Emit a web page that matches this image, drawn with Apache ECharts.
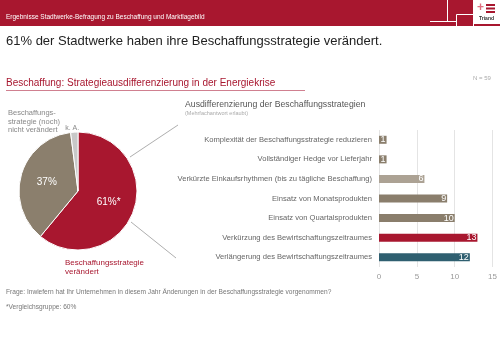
<!DOCTYPE html>
<html>
<head>
<meta charset="utf-8">
<script src="https://cdn.jsdelivr.net/npm/echarts@6/dist/echarts.min.js"></script>
<style>
  * { margin: 0; padding: 0; }
  html, body { background: #fff; }
  #chart { width: 500px; height: 353px; }
</style>
</head>
<body>
<div id="chart"></div>
<script>
  // Kreisdiagramm: Beschaffungsstrategie
  const pieNames = ['Beschaffungsstrategie verändert', 'Beschaffungsstrategie (noch) nicht verändert', 'k. A.'];
  const pieValues = [61, 37, 2];
  const pieLabels = ['61%*', '37%', 'k. A.'];

  // Balkendiagramm: Ausdifferenzierung
  const barCategories = [
    'Komplexität der Beschaffungsstrategie reduzieren',
    'Vollständiger Hedge vor Lieferjahr',
    'Verkürzte Einkaufsrhythmen (bis zu tägliche Beschaffung)',
    'Einsatz von Monatsprodukten',
    'Einsatz von Quartalsprodukten',
    'Verkürzung des Bewirtschaftungszeitraumes',
    'Verlängerung des Bewirtschaftungszeitraumes'
  ];
  const barValues = [1, 1, 6, 9, 10, 13, 12];
  const xTicks = [0, 5, 10, 15];

  const red = '#a8172f';
  const pieColors = [red, '#8b7f6d', '#c8c8c8'];
  const barColors = ['#8a7e6c', '#8a7e6c', '#aca294', '#8a7e6c', '#8a7e6c', red, '#2f5f70'];
  const font = '"Liberation Sans", Arial, sans-serif';

  const chart = echarts.init(document.getElementById('chart'));

  const option = {
    backgroundColor: '#fff',
    textStyle: { fontFamily: font },
    animation: false,
    grid: { left: 379, right: 7, top: 130, bottom: 86 },
    xAxis: {
      type: 'value',
      min: xTicks[0],
      max: xTicks[xTicks.length - 1],
      interval: 5,
      axisLine: { show: false },
      axisTick: { show: false },
      splitLine: { lineStyle: { color: '#e4e4e4', width: 1 } },
      axisLabel: { color: '#999', fontSize: 8, margin: 6 }
    },
    yAxis: {
      type: 'category',
      inverse: true,
      data: barCategories,
      axisLine: { show: false },
      axisTick: { show: false },
      axisLabel: { color: '#666', fontSize: 7.6, margin: 7 }
    },
    series: [
      {
        type: 'bar',
        barWidth: 8,
        data: barValues.map((v, i) => ({ value: v, itemStyle: { color: barColors[i] } })),
        label: {
          show: true,
          position: 'insideRight',
          color: '#fff',
          fontSize: 9,
          distance: 1
        }
      },
      {
        type: 'pie',
        center: [78, 191],
        radius: 59,
        startAngle: 90,
        clockwise: true,
        itemStyle: { borderColor: '#fff', borderWidth: 1 },
        data: pieValues.map((v, i) => ({
          name: pieNames[i],
          value: v,
          itemStyle: { color: pieColors[i] },
          label: i < 2
            ? { show: true, position: 'inside', formatter: pieLabels[i], color: '#fff', fontSize: 10 }
            : { show: true, position: 'outside', formatter: pieLabels[i], color: '#888', fontSize: 7, offset: [10, -2] },
          labelLine: { show: false, length: 2, length2: 0 }
        }))
      }
    ],
    graphic: [
      // Kopfzeile
      { type: 'rect', left: 0, top: 0, shape: { width: 500, height: 26 }, style: { fill: red }, silent: true },
      { type: 'line', shape: { x1: 447.5, y1: 0, x2: 447.5, y2: 21 }, style: { stroke: '#fff', lineWidth: 1 } },
      { type: 'line', shape: { x1: 430, y1: 21.5, x2: 457, y2: 21.5 }, style: { stroke: '#fff', lineWidth: 1 } },
      { type: 'rect', shape: { x: 456.5, y: 14.5, width: 17, height: 12 }, style: { fill: 'none', stroke: '#fff', lineWidth: 1 } },
      { type: 'rect', shape: { x: 473, y: 0, width: 27, height: 24 }, style: { fill: '#fff' } },
      { type: 'text', x: 477, y: 2, style: { text: '+', fill: '#e07080', font: 'bold 12px ' + font } },
      { type: 'rect', shape: { x: 486, y: 4, width: 9, height: 2 }, style: { fill: red } },
      { type: 'rect', shape: { x: 486, y: 7.5, width: 9, height: 2 }, style: { fill: red } },
      { type: 'rect', shape: { x: 486, y: 11, width: 9, height: 2 }, style: { fill: red } },
      { type: 'text', x: 479, y: 16, style: { text: 'Triand', fill: '#333', font: 'bold 5px ' + font } },
      {
        type: 'text', x: 6, y: 14,
        style: { text: 'Ergebnisse Stadtwerke-Befragung zu Beschaffung und Marktlagebild', fill: '#fff', font: '6.5px ' + font }
      },
      // Titel
      {
        type: 'text', x: 6, y: 35,
        style: { text: '61% der Stadtwerke haben ihre Beschaffungsstrategie verändert.', fill: '#222', font: '13px ' + font }
      },
      {
        type: 'text', x: 6, y: 78,
        style: { text: 'Beschaffung: Strategieausdifferenzierung in der Energiekrise', fill: red, font: '10px ' + font }
      },
      { type: 'line', shape: { x1: 6, y1: 90.5, x2: 305, y2: 90.5 }, style: { stroke: '#d08090', lineWidth: 1 } },
      { type: 'text', x: 473, y: 75, style: { text: 'N = 59', fill: '#aaa', font: '6px ' + font } },
      // Kreis-Beschriftungen
      {
        type: 'text', x: 8, y: 109,
        style: { text: 'Beschaffungs-\nstrategie (noch)\nnicht verändert', fill: '#888', font: '7.5px ' + font, lineHeight: 8.5 }
      },
      {
        type: 'text', x: 65, y: 258,
        style: { text: 'Beschaffungsstrategie\nverändert', fill: red, font: '8px ' + font, lineHeight: 9.5 }
      },
      // Verbindungslinien
      { type: 'line', shape: { x1: 130, y1: 157, x2: 178, y2: 125 }, style: { stroke: '#999', lineWidth: 0.8 } },
      { type: 'line', shape: { x1: 131, y1: 222, x2: 176, y2: 258 }, style: { stroke: '#999', lineWidth: 0.8 } },
      // Balken-Titel
      {
        type: 'text', x: 185, y: 100,
        style: { text: 'Ausdifferenzierung der Beschaffungsstrategien', fill: '#555', font: '8.7px ' + font }
      },
      {
        type: 'text', x: 185, y: 110,
        style: { text: '(Mehrfachantwort erlaubt)', fill: '#aaa', font: '5.5px ' + font }
      },
      // Fußnoten
      {
        type: 'text', x: 6, y: 289,
        style: { text: 'Frage: Inwiefern hat Ihr Unternehmen in diesem Jahr Änderungen in der Beschaffungsstrategie vorgenommen?', fill: '#777', font: '6.6px ' + font }
      },
      {
        type: 'text', x: 6, y: 304,
        style: { text: '*Vergleichsgruppe: 60%', fill: '#777', font: '6.6px ' + font }
      }
    ]
  };

  chart.setOption(option);
</script>
</body>
</html>
